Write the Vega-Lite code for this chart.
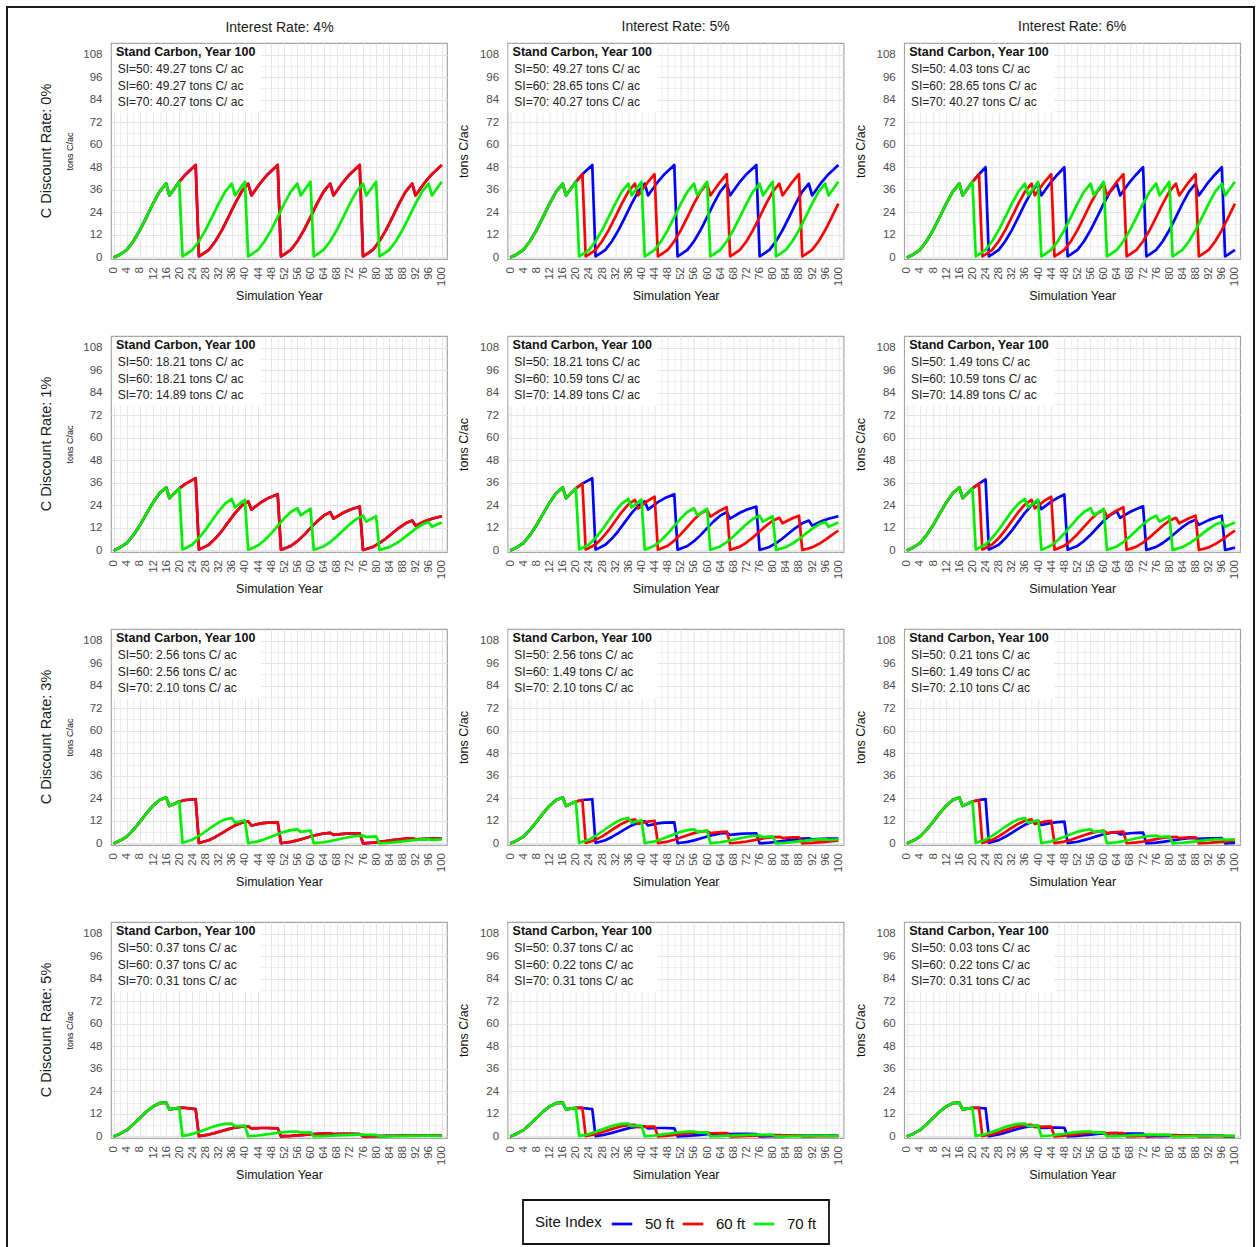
{
  "$schema": "https://vega.github.io/schema/vega-lite/v6.json",
  "background": "white",
  "padding": 5,
  "data": {
    "values": "d,R,t,c\n0,20,0,0\n0,20,2,1.6\n0,20,4,4.03\n0,20,6,8.6\n0,20,8,14.5\n0,20,10,21.5\n0,20,12,28.65\n0,20,14,35\n0,20,16,39.3\n0,20,17,33\n0,20,20,40.27\n0,20,21,0.6\n0,20,22,1.6\n0,20,24,4.03\n0,20,26,8.6\n0,20,28,14.5\n0,20,30,21.5\n0,20,32,28.65\n0,20,34,35\n0,20,36,39.3\n0,20,37,33\n0,20,40,40.27\n0,20,41,0.6\n0,20,42,1.6\n0,20,44,4.03\n0,20,46,8.6\n0,20,48,14.5\n0,20,50,21.5\n0,20,52,28.65\n0,20,54,35\n0,20,56,39.3\n0,20,57,33\n0,20,60,40.27\n0,20,61,0.6\n0,20,62,1.6\n0,20,64,4.03\n0,20,66,8.6\n0,20,68,14.5\n0,20,70,21.5\n0,20,72,28.65\n0,20,74,35\n0,20,76,39.3\n0,20,77,33\n0,20,80,40.27\n0,20,81,0.6\n0,20,82,1.6\n0,20,84,4.03\n0,20,86,8.6\n0,20,88,14.5\n0,20,90,21.5\n0,20,92,28.65\n0,20,94,35\n0,20,96,39.3\n0,20,97,33\n0,20,100,40.27\n1,20,0,0\n1,20,2,1.57\n1,20,4,3.87\n1,20,6,8.1\n1,20,8,13.39\n1,20,10,19.46\n1,20,12,25.43\n1,20,14,30.45\n1,20,16,33.52\n1,20,17,27.86\n1,20,20,33\n1,20,21,0.49\n1,20,22,1.29\n1,20,24,3.17\n1,20,26,6.64\n1,20,28,10.97\n1,20,30,15.95\n1,20,32,20.84\n1,20,34,24.95\n1,20,36,27.47\n1,20,37,22.84\n1,20,40,27.05\n1,20,41,0.4\n1,20,42,1.05\n1,20,44,2.6\n1,20,46,5.44\n1,20,48,8.99\n1,20,50,13.07\n1,20,52,17.08\n1,20,54,20.45\n1,20,56,22.51\n1,20,57,18.72\n1,20,60,22.17\n1,20,61,0.33\n1,20,62,0.86\n1,20,64,2.13\n1,20,66,4.46\n1,20,68,7.37\n1,20,70,10.71\n1,20,72,14\n1,20,74,16.76\n1,20,76,18.45\n1,20,77,15.34\n1,20,80,18.17\n1,20,81,0.27\n1,20,82,0.71\n1,20,84,1.75\n1,20,86,3.65\n1,20,88,6.04\n1,20,90,8.78\n1,20,92,11.47\n1,20,94,13.74\n1,20,96,15.12\n1,20,97,12.57\n1,20,100,14.89\n3,20,0,0\n3,20,2,1.51\n3,20,4,3.58\n3,20,6,7.2\n3,20,8,11.45\n3,20,10,16\n3,20,12,20.1\n3,20,14,23.14\n3,20,16,24.49\n3,20,17,19.97\n3,20,20,22.3\n3,20,21,0.32\n3,20,22,0.84\n3,20,24,1.98\n3,20,26,3.99\n3,20,28,6.34\n3,20,30,8.86\n3,20,32,11.13\n3,20,34,12.81\n3,20,36,13.56\n3,20,37,11.05\n3,20,40,12.35\n3,20,41,0.18\n3,20,42,0.46\n3,20,44,1.1\n3,20,46,2.21\n3,20,48,3.51\n3,20,50,4.9\n3,20,52,6.16\n3,20,54,7.09\n3,20,56,7.51\n3,20,57,6.12\n3,20,60,6.84\n3,20,61,0.1\n3,20,62,0.26\n3,20,64,0.61\n3,20,66,1.22\n3,20,68,1.94\n3,20,70,2.72\n3,20,72,3.41\n3,20,74,3.93\n3,20,76,4.16\n3,20,77,3.39\n3,20,80,3.78\n3,20,81,0.055\n3,20,82,0.14\n3,20,84,0.34\n3,20,86,0.68\n3,20,88,1.08\n3,20,90,1.5\n3,20,92,1.89\n3,20,94,2.18\n3,20,96,2.3\n3,20,97,1.88\n3,20,100,2.1\n5,20,0,0\n5,20,2,1.451\n5,20,4,3.315\n5,20,6,6.417\n5,20,8,9.814\n5,20,10,13.199\n5,20,12,15.953\n5,20,14,17.677\n5,20,16,18.004\n5,20,17,14.398\n5,20,20,15.177\n5,20,21,0.215\n5,20,22,0.547\n5,20,24,1.25\n5,20,26,2.419\n5,20,28,3.699\n5,20,30,4.975\n5,20,32,6.013\n5,20,34,6.662\n5,20,36,6.785\n5,20,37,5.426\n5,20,40,5.72\n5,20,41,0.081\n5,20,42,0.206\n5,20,44,0.471\n5,20,46,0.912\n5,20,48,1.394\n5,20,50,1.875\n5,20,52,2.266\n5,20,54,2.511\n5,20,56,2.557\n5,20,57,2.045\n5,20,60,2.156\n5,20,61,0.031\n5,20,62,0.078\n5,20,64,0.177\n5,20,66,0.344\n5,20,68,0.525\n5,20,70,0.707\n5,20,72,0.854\n5,20,74,0.946\n5,20,76,0.964\n5,20,77,0.771\n5,20,80,0.813\n5,20,81,0.012\n5,20,82,0.029\n5,20,84,0.067\n5,20,86,0.129\n5,20,88,0.198\n5,20,90,0.266\n5,20,92,0.322\n5,20,94,0.357\n5,20,96,0.363\n5,20,97,0.29\n5,20,100,0.31\n0,25,0,0\n0,25,2,1.6\n0,25,4,4.03\n0,25,6,8.6\n0,25,8,14.5\n0,25,10,21.5\n0,25,12,28.65\n0,25,14,35\n0,25,16,39.3\n0,25,17,33\n0,25,20,40.27\n0,25,22,44.3\n0,25,25,49.27\n0,25,26,0.6\n0,25,27,1.6\n0,25,29,4.03\n0,25,31,8.6\n0,25,33,14.5\n0,25,35,21.5\n0,25,37,28.65\n0,25,39,35\n0,25,41,39.3\n0,25,42,33\n0,25,45,40.27\n0,25,47,44.3\n0,25,50,49.27\n0,25,51,0.6\n0,25,52,1.6\n0,25,54,4.03\n0,25,56,8.6\n0,25,58,14.5\n0,25,60,21.5\n0,25,62,28.65\n0,25,64,35\n0,25,66,39.3\n0,25,67,33\n0,25,70,40.27\n0,25,72,44.3\n0,25,75,49.27\n0,25,76,0.6\n0,25,77,1.6\n0,25,79,4.03\n0,25,81,8.6\n0,25,83,14.5\n0,25,85,21.5\n0,25,87,28.65\n0,25,89,35\n0,25,91,39.3\n0,25,92,33\n0,25,95,40.27\n0,25,97,44.3\n0,25,100,49.27\n1,25,0,0\n1,25,2,1.57\n1,25,4,3.87\n1,25,6,8.1\n1,25,8,13.39\n1,25,10,19.46\n1,25,12,25.43\n1,25,14,30.45\n1,25,16,33.52\n1,25,17,27.86\n1,25,20,33\n1,25,22,35.59\n1,25,25,38.42\n1,25,26,0.46\n1,25,27,1.22\n1,25,29,3.02\n1,25,31,6.32\n1,25,33,10.44\n1,25,35,15.18\n1,25,37,19.83\n1,25,39,23.74\n1,25,41,26.14\n1,25,42,21.73\n1,25,45,25.74\n1,25,47,27.75\n1,25,50,29.96\n1,25,51,0.36\n1,25,52,0.95\n1,25,54,2.35\n1,25,56,4.93\n1,25,58,8.14\n1,25,60,11.83\n1,25,62,15.46\n1,25,64,18.51\n1,25,66,20.38\n1,25,67,16.94\n1,25,70,20.07\n1,25,72,21.64\n1,25,75,23.36\n1,25,76,0.28\n1,25,77,0.74\n1,25,79,1.84\n1,25,81,3.84\n1,25,83,6.35\n1,25,85,9.23\n1,25,87,12.06\n1,25,89,14.44\n1,25,91,15.89\n1,25,92,13.21\n1,25,95,15.65\n1,25,97,16.87\n1,25,100,18.21\n3,25,0,0\n3,25,2,1.51\n3,25,4,3.58\n3,25,6,7.2\n3,25,8,11.45\n3,25,10,16\n3,25,12,20.1\n3,25,14,23.14\n3,25,16,24.49\n3,25,17,19.97\n3,25,20,22.3\n3,25,22,23.12\n3,25,25,23.53\n3,25,26,0.28\n3,25,27,0.72\n3,25,29,1.71\n3,25,31,3.44\n3,25,33,5.47\n3,25,35,7.64\n3,25,37,9.6\n3,25,39,11.05\n3,25,41,11.7\n3,25,42,9.54\n3,25,45,10.65\n3,25,47,11.04\n3,25,50,11.24\n3,25,51,0.13\n3,25,52,0.34\n3,25,54,0.82\n3,25,56,1.64\n3,25,58,2.61\n3,25,60,3.65\n3,25,62,4.58\n3,25,64,5.28\n3,25,66,5.59\n3,25,67,4.55\n3,25,70,5.09\n3,25,72,5.27\n3,25,75,5.37\n3,25,76,0.063\n3,25,77,0.16\n3,25,79,0.39\n3,25,81,0.78\n3,25,83,1.25\n3,25,85,1.74\n3,25,87,2.19\n3,25,89,2.52\n3,25,91,2.67\n3,25,92,2.18\n3,25,95,2.43\n3,25,97,2.52\n3,25,100,2.56\n5,25,0,0\n5,25,2,1.451\n5,25,4,3.315\n5,25,6,6.417\n5,25,8,9.814\n5,25,10,13.199\n5,25,12,15.953\n5,25,14,17.677\n5,25,16,18.004\n5,25,17,14.398\n5,25,20,15.177\n5,25,22,15.144\n5,25,25,14.55\n5,25,26,0.169\n5,25,27,0.429\n5,25,29,0.979\n5,25,31,1.895\n5,25,33,2.898\n5,25,35,3.898\n5,25,37,4.711\n5,25,39,5.22\n5,25,41,5.317\n5,25,42,4.252\n5,25,45,4.482\n5,25,47,4.472\n5,25,50,4.297\n5,25,51,0.05\n5,25,52,0.127\n5,25,54,0.289\n5,25,56,0.56\n5,25,58,0.856\n5,25,60,1.151\n5,25,62,1.391\n5,25,64,1.542\n5,25,66,1.57\n5,25,67,1.256\n5,25,70,1.324\n5,25,72,1.321\n5,25,75,1.269\n5,25,76,0.015\n5,25,77,0.037\n5,25,79,0.085\n5,25,81,0.165\n5,25,83,0.253\n5,25,85,0.34\n5,25,87,0.411\n5,25,89,0.455\n5,25,91,0.464\n5,25,92,0.371\n5,25,95,0.391\n5,25,97,0.39\n5,25,100,0.37\n0,22,0,0\n0,22,2,1.6\n0,22,4,4.03\n0,22,6,8.6\n0,22,8,14.5\n0,22,10,21.5\n0,22,12,28.65\n0,22,14,35\n0,22,16,39.3\n0,22,17,33\n0,22,20,40.27\n0,22,22,44.3\n0,22,23,0.6\n0,22,24,1.6\n0,22,26,4.03\n0,22,28,8.6\n0,22,30,14.5\n0,22,32,21.5\n0,22,34,28.65\n0,22,36,35\n0,22,38,39.3\n0,22,39,33\n0,22,42,40.27\n0,22,44,44.3\n0,22,45,0.6\n0,22,46,1.6\n0,22,48,4.03\n0,22,50,8.6\n0,22,52,14.5\n0,22,54,21.5\n0,22,56,28.65\n0,22,58,35\n0,22,60,39.3\n0,22,61,33\n0,22,64,40.27\n0,22,66,44.3\n0,22,67,0.6\n0,22,68,1.6\n0,22,70,4.03\n0,22,72,8.6\n0,22,74,14.5\n0,22,76,21.5\n0,22,78,28.65\n0,22,80,35\n0,22,82,39.3\n0,22,83,33\n0,22,86,40.27\n0,22,88,44.3\n0,22,89,0.6\n0,22,90,1.6\n0,22,92,4.03\n0,22,94,8.6\n0,22,96,14.5\n0,22,98,21.5\n0,22,100,28.65\n1,22,0,0\n1,22,2,1.57\n1,22,4,3.87\n1,22,6,8.1\n1,22,8,13.39\n1,22,10,19.46\n1,22,12,25.43\n1,22,14,30.45\n1,22,16,33.52\n1,22,17,27.86\n1,22,20,33\n1,22,22,35.59\n1,22,23,0.48\n1,22,24,1.26\n1,22,26,3.11\n1,22,28,6.51\n1,22,30,10.76\n1,22,32,15.64\n1,22,34,20.43\n1,22,36,24.46\n1,22,38,26.93\n1,22,39,22.39\n1,22,42,26.52\n1,22,44,28.59\n1,22,45,0.38\n1,22,46,1.01\n1,22,48,2.5\n1,22,50,5.23\n1,22,52,8.64\n1,22,54,12.56\n1,22,56,16.41\n1,22,58,19.65\n1,22,60,21.63\n1,22,61,17.99\n1,22,64,21.3\n1,22,66,22.97\n1,22,67,0.31\n1,22,68,0.81\n1,22,70,2.01\n1,22,72,4.2\n1,22,74,6.94\n1,22,76,10.09\n1,22,78,13.18\n1,22,80,15.79\n1,22,82,17.38\n1,22,83,14.45\n1,22,86,17.11\n1,22,88,18.46\n1,22,89,0.25\n1,22,90,0.65\n1,22,92,1.61\n1,22,94,3.38\n1,22,96,5.58\n1,22,98,8.11\n1,22,100,10.59\n3,22,0,0\n3,22,2,1.51\n3,22,4,3.58\n3,22,6,7.2\n3,22,8,11.45\n3,22,10,16\n3,22,12,20.1\n3,22,14,23.14\n3,22,16,24.49\n3,22,17,19.97\n3,22,20,22.3\n3,22,22,23.12\n3,22,23,0.3\n3,22,24,0.79\n3,22,26,1.87\n3,22,28,3.76\n3,22,30,5.97\n3,22,32,8.35\n3,22,34,10.49\n3,22,36,12.08\n3,22,38,12.78\n3,22,39,10.42\n3,22,42,11.64\n3,22,44,12.07\n3,22,45,0.16\n3,22,46,0.41\n3,22,48,0.98\n3,22,50,1.96\n3,22,52,3.12\n3,22,54,4.36\n3,22,56,5.47\n3,22,58,6.3\n3,22,60,6.67\n3,22,61,5.44\n3,22,64,6.07\n3,22,66,6.3\n3,22,67,0.083\n3,22,68,0.21\n3,22,70,0.51\n3,22,72,1.02\n3,22,74,1.63\n3,22,76,2.27\n3,22,78,2.86\n3,22,80,3.29\n3,22,82,3.48\n3,22,83,2.84\n3,22,86,3.17\n3,22,88,3.29\n3,22,89,0.043\n3,22,90,0.11\n3,22,92,0.27\n3,22,94,0.53\n3,22,96,0.85\n3,22,98,1.19\n3,22,100,1.49\n5,22,0,0\n5,22,2,1.451\n5,22,4,3.315\n5,22,6,6.417\n5,22,8,9.814\n5,22,10,13.199\n5,22,12,15.953\n5,22,14,17.677\n5,22,16,18.004\n5,22,17,14.398\n5,22,20,15.177\n5,22,22,15.144\n5,22,23,0.195\n5,22,24,0.496\n5,22,26,1.133\n5,22,28,2.194\n5,22,30,3.355\n5,22,32,4.512\n5,22,34,5.454\n5,22,36,6.043\n5,22,38,6.155\n5,22,39,4.922\n5,22,42,5.188\n5,22,44,5.177\n5,22,45,0.067\n5,22,46,0.17\n5,22,48,0.387\n5,22,50,0.75\n5,22,52,1.147\n5,22,54,1.542\n5,22,56,1.864\n5,22,58,2.066\n5,22,60,2.104\n5,22,61,1.683\n5,22,64,1.774\n5,22,66,1.77\n5,22,67,0.023\n5,22,68,0.058\n5,22,70,0.132\n5,22,72,0.256\n5,22,74,0.392\n5,22,76,0.527\n5,22,78,0.637\n5,22,80,0.706\n5,22,82,0.719\n5,22,83,0.575\n5,22,86,0.606\n5,22,88,0.605\n5,22,89,0.008\n5,22,90,0.02\n5,22,92,0.045\n5,22,94,0.088\n5,22,96,0.134\n5,22,98,0.18\n5,22,100,0.22\n0,24,0,0\n0,24,2,1.6\n0,24,4,4.03\n0,24,6,8.6\n0,24,8,14.5\n0,24,10,21.5\n0,24,12,28.65\n0,24,14,35\n0,24,16,39.3\n0,24,17,33\n0,24,20,40.27\n0,24,22,44.3\n0,24,24,48\n0,24,25,0.6\n0,24,26,1.6\n0,24,28,4.03\n0,24,30,8.6\n0,24,32,14.5\n0,24,34,21.5\n0,24,36,28.65\n0,24,38,35\n0,24,40,39.3\n0,24,41,33\n0,24,44,40.27\n0,24,46,44.3\n0,24,48,48\n0,24,49,0.6\n0,24,50,1.6\n0,24,52,4.03\n0,24,54,8.6\n0,24,56,14.5\n0,24,58,21.5\n0,24,60,28.65\n0,24,62,35\n0,24,64,39.3\n0,24,65,33\n0,24,68,40.27\n0,24,70,44.3\n0,24,72,48\n0,24,73,0.6\n0,24,74,1.6\n0,24,76,4.03\n0,24,78,8.6\n0,24,80,14.5\n0,24,82,21.5\n0,24,84,28.65\n0,24,86,35\n0,24,88,39.3\n0,24,89,33\n0,24,92,40.27\n0,24,94,44.3\n0,24,96,48\n0,24,97,0.6\n0,24,98,1.6\n0,24,100,4.03\n1,24,0,0\n1,24,2,1.57\n1,24,4,3.87\n1,24,6,8.1\n1,24,8,13.39\n1,24,10,19.46\n1,24,12,25.43\n1,24,14,30.45\n1,24,16,33.52\n1,24,17,27.86\n1,24,20,33\n1,24,22,35.59\n1,24,24,37.8\n1,24,25,0.47\n1,24,26,1.24\n1,24,28,3.05\n1,24,30,6.38\n1,24,32,10.55\n1,24,34,15.33\n1,24,36,20.02\n1,24,38,23.98\n1,24,40,26.4\n1,24,41,21.95\n1,24,44,25.99\n1,24,46,28.03\n1,24,48,29.77\n1,24,49,0.37\n1,24,50,0.97\n1,24,52,2.4\n1,24,54,5.03\n1,24,56,8.31\n1,24,58,12.07\n1,24,60,15.77\n1,24,62,18.89\n1,24,64,20.79\n1,24,65,17.28\n1,24,68,20.47\n1,24,70,22.08\n1,24,72,23.45\n1,24,73,0.29\n1,24,74,0.77\n1,24,76,1.89\n1,24,78,3.96\n1,24,80,6.54\n1,24,82,9.51\n1,24,84,12.42\n1,24,86,14.87\n1,24,88,16.37\n1,24,89,13.61\n1,24,92,16.12\n1,24,94,17.39\n1,24,96,18.47\n1,24,97,0.23\n1,24,98,0.6\n1,24,100,1.49\n3,24,0,0\n3,24,2,1.51\n3,24,4,3.58\n3,24,6,7.2\n3,24,8,11.45\n3,24,10,16\n3,24,12,20.1\n3,24,14,23.14\n3,24,16,24.49\n3,24,17,19.97\n3,24,20,22.3\n3,24,22,23.12\n3,24,24,23.61\n3,24,25,0.29\n3,24,26,0.74\n3,24,28,1.76\n3,24,30,3.54\n3,24,32,5.63\n3,24,34,7.87\n3,24,36,9.89\n3,24,38,11.38\n3,24,40,12.05\n3,24,41,9.82\n3,24,44,10.97\n3,24,46,11.37\n3,24,48,11.62\n3,24,49,0.14\n3,24,50,0.37\n3,24,52,0.87\n3,24,54,1.74\n3,24,56,2.77\n3,24,58,3.87\n3,24,60,4.86\n3,24,62,5.6\n3,24,64,5.93\n3,24,65,4.83\n3,24,68,5.4\n3,24,70,5.6\n3,24,72,5.71\n3,24,73,0.069\n3,24,74,0.18\n3,24,76,0.43\n3,24,78,0.86\n3,24,80,1.36\n3,24,82,1.91\n3,24,84,2.39\n3,24,86,2.76\n3,24,88,2.92\n3,24,89,2.38\n3,24,92,2.65\n3,24,94,2.75\n3,24,96,2.81\n3,24,97,0.034\n3,24,98,0.088\n3,24,100,0.21\n5,24,0,0\n5,24,2,1.451\n5,24,4,3.315\n5,24,6,6.417\n5,24,8,9.814\n5,24,10,13.199\n5,24,12,15.953\n5,24,14,17.677\n5,24,16,18.004\n5,24,17,14.398\n5,24,20,15.177\n5,24,22,15.144\n5,24,24,14.883\n5,24,25,0.177\n5,24,26,0.45\n5,24,28,1.028\n5,24,30,1.99\n5,24,32,3.043\n5,24,34,4.093\n5,24,36,4.947\n5,24,38,5.481\n5,24,40,5.582\n5,24,41,4.464\n5,24,44,4.706\n5,24,46,4.696\n5,24,48,4.615\n5,24,49,0.055\n5,24,50,0.14\n5,24,52,0.319\n5,24,54,0.617\n5,24,56,0.944\n5,24,58,1.269\n5,24,60,1.534\n5,24,62,1.7\n5,24,64,1.731\n5,24,65,1.384\n5,24,68,1.459\n5,24,70,1.456\n5,24,72,1.431\n5,24,73,0.017\n5,24,74,0.043\n5,24,76,0.099\n5,24,78,0.191\n5,24,80,0.293\n5,24,82,0.393\n5,24,84,0.476\n5,24,86,0.527\n5,24,88,0.537\n5,24,89,0.429\n5,24,92,0.452\n5,24,94,0.451\n5,24,96,0.444\n5,24,97,0.005\n5,24,98,0.013\n5,24,100,0.03",
    "format": {"type": "csv", "parse": {"d": "number", "R": "number", "t": "number", "c": "number"}}
  },
  "datasets": {
    "labels": [
      {"d": 0, "i": 4, "body": ["SI=50: 49.27 tons C/ ac", "SI=60: 49.27 tons C/ ac", "SI=70: 40.27 tons C/ ac"]},
      {"d": 0, "i": 5, "body": ["SI=50: 49.27 tons C/ ac", "SI=60: 28.65 tons C/ ac", "SI=70: 40.27 tons C/ ac"]},
      {"d": 0, "i": 6, "body": ["SI=50: 4.03 tons C/ ac", "SI=60: 28.65 tons C/ ac", "SI=70: 40.27 tons C/ ac"]},
      {"d": 1, "i": 4, "body": ["SI=50: 18.21 tons C/ ac", "SI=60: 18.21 tons C/ ac", "SI=70: 14.89 tons C/ ac"]},
      {"d": 1, "i": 5, "body": ["SI=50: 18.21 tons C/ ac", "SI=60: 10.59 tons C/ ac", "SI=70: 14.89 tons C/ ac"]},
      {"d": 1, "i": 6, "body": ["SI=50: 1.49 tons C/ ac", "SI=60: 10.59 tons C/ ac", "SI=70: 14.89 tons C/ ac"]},
      {"d": 3, "i": 4, "body": ["SI=50: 2.56 tons C/ ac", "SI=60: 2.56 tons C/ ac", "SI=70: 2.10 tons C/ ac"]},
      {"d": 3, "i": 5, "body": ["SI=50: 2.56 tons C/ ac", "SI=60: 1.49 tons C/ ac", "SI=70: 2.10 tons C/ ac"]},
      {"d": 3, "i": 6, "body": ["SI=50: 0.21 tons C/ ac", "SI=60: 1.49 tons C/ ac", "SI=70: 2.10 tons C/ ac"]},
      {"d": 5, "i": 4, "body": ["SI=50: 0.37 tons C/ ac", "SI=60: 0.37 tons C/ ac", "SI=70: 0.31 tons C/ ac"]},
      {"d": 5, "i": 5, "body": ["SI=50: 0.37 tons C/ ac", "SI=60: 0.22 tons C/ ac", "SI=70: 0.31 tons C/ ac"]},
      {"d": 5, "i": 6, "body": ["SI=50: 0.03 tons C/ ac", "SI=60: 0.22 tons C/ ac", "SI=70: 0.31 tons C/ ac"]}
    ]
  },
  "columns": 3,
  "spacing": {"row": 77, "column": 60.6},
  "bounds": "flush",
  "concat": [
    {
      "width": 336, "height": 216,
      "title": {"text": "C Discount Rate: 0%", "orient": "left", "fontSize": 14.5, "offset": 11},
      "resolve": {"axis": {"x": "independent"}},
      "layer": [
        {"layer": [
          {"encoding": {
            "x": {"field": "t", "type": "quantitative", "scale": {"domain": [-0.8, 101.6], "nice": false, "zero": false}, "axis": {"title": "Simulation Year", "labelOverlap": false, "tickCount": 60, "values": [0,2,4,6,8,10,12,14,16,18,20,22,24,26,28,30,32,34,36,38,40,42,44,46,48,50,52,54,56,58,60,62,64,66,68,70,72,74,76,78,80,82,84,86,88,90,92,94,96,98,100]}},
            "y": {"field": "c", "type": "quantitative", "scale": {"domain": [-0.85, 114.2], "nice": false, "zero": false}, "axis": {"title": "tons C/ac", "labelOverlap": false, "tickCount": 25, "titleFontSize": 9, "titlePadding": 8, "values": [0,6,12,18,24,30,36,42,48,54,60,66,72,78,84,90,96,102,108]}}
          }, "layer": [
            {"transform": [{"filter": "datum.d == 0 && datum.R == 25"}], "mark": "line", "encoding": {"color": {"datum": "50 ft", "legend": {"title": "Site Index"}}}},
            {"transform": [{"filter": "datum.d == 0 && datum.R == 25"}], "mark": "line", "encoding": {"color": {"datum": "60 ft"}}},
            {"transform": [{"filter": "datum.d == 0 && datum.R == 20"}], "mark": "line", "encoding": {"color": {"datum": "70 ft"}}}
          ]},
          {"data": {"name": "labels"}, "transform": [{"filter": "datum.d == 0 && datum.i == 4"}], "layer": [
            {"mark": {"type": "rect", "fill": "white"}, "encoding": {"x": {"datum": -0.5}, "x2": {"datum": 45}, "y": {"datum": 113.7}, "y2": {"datum": 77}}},
            {"mark": {"type": "text", "text": "Stand Carbon, Year 100", "fontWeight": "bold", "fontSize": 12.5, "align": "left", "baseline": "middle", "color": "#111111"}, "encoding": {"x": {"datum": 0.72}, "y": {"datum": 109.57}}},
            {"mark": {"type": "text", "fontSize": 12, "align": "left", "baseline": "middle", "lineHeight": 16.3, "color": "#222222"}, "encoding": {"x": {"datum": 1.24}, "y": {"datum": 100.2}, "text": {"field": "body"}}}
          ]}
        ]},
        {"data": {"name": "labels"}, "transform": [{"filter": "datum.d == 0 && datum.i == 4"}], "mark": {"type": "rect", "fillOpacity": 0, "strokeOpacity": 0}, "encoding": {"x": {"datum": -0.5, "axis": {"orient": "top", "title": "Interest Rate: 4%", "labels": false, "ticks": false, "grid": false, "domain": false, "titleFontSize": 14, "titleColor": "#1a1a1a", "titlePadding": 9}}, "x2": {"datum": 45}, "y": {"datum": 113.7}, "y2": {"datum": 77}}}
      ]
    },
    {
      "width": 336, "height": 216,
      "title": {"text": "Interest Rate: 5%"},
      "layer": [
        {"encoding": {
          "x": {"field": "t", "type": "quantitative", "scale": {"domain": [-0.8, 101.6], "nice": false, "zero": false}, "axis": {"title": "Simulation Year", "labelOverlap": false, "tickCount": 60, "values": [0,2,4,6,8,10,12,14,16,18,20,22,24,26,28,30,32,34,36,38,40,42,44,46,48,50,52,54,56,58,60,62,64,66,68,70,72,74,76,78,80,82,84,86,88,90,92,94,96,98,100]}},
          "y": {"field": "c", "type": "quantitative", "scale": {"domain": [-0.85, 114.2], "nice": false, "zero": false}, "axis": {"title": "tons C/ac", "labelOverlap": false, "tickCount": 25, "values": [0,6,12,18,24,30,36,42,48,54,60,66,72,78,84,90,96,102,108]}}
        }, "layer": [
          {"transform": [{"filter": "datum.d == 0 && datum.R == 25"}], "mark": "line", "encoding": {"color": {"datum": "50 ft"}}},
          {"transform": [{"filter": "datum.d == 0 && datum.R == 22"}], "mark": "line", "encoding": {"color": {"datum": "60 ft"}}},
          {"transform": [{"filter": "datum.d == 0 && datum.R == 20"}], "mark": "line", "encoding": {"color": {"datum": "70 ft"}}}
        ]},
        {"data": {"name": "labels"}, "transform": [{"filter": "datum.d == 0 && datum.i == 5"}], "layer": [
          {"mark": {"type": "rect", "fill": "white"}, "encoding": {"x": {"datum": -0.5}, "x2": {"datum": 45}, "y": {"datum": 113.7}, "y2": {"datum": 77}}},
          {"mark": {"type": "text", "text": "Stand Carbon, Year 100", "fontWeight": "bold", "fontSize": 12.5, "align": "left", "baseline": "middle", "color": "#111111"}, "encoding": {"x": {"datum": 0.72}, "y": {"datum": 109.57}}},
          {"mark": {"type": "text", "fontSize": 12, "align": "left", "baseline": "middle", "lineHeight": 16.3, "color": "#222222"}, "encoding": {"x": {"datum": 1.24}, "y": {"datum": 100.2}, "text": {"field": "body"}}}
        ]}
      ]
    },
    {
      "width": 336, "height": 216,
      "title": {"text": "Interest Rate: 6%"},
      "layer": [
        {"encoding": {
          "x": {"field": "t", "type": "quantitative", "scale": {"domain": [-0.8, 101.6], "nice": false, "zero": false}, "axis": {"title": "Simulation Year", "labelOverlap": false, "tickCount": 60, "values": [0,2,4,6,8,10,12,14,16,18,20,22,24,26,28,30,32,34,36,38,40,42,44,46,48,50,52,54,56,58,60,62,64,66,68,70,72,74,76,78,80,82,84,86,88,90,92,94,96,98,100]}},
          "y": {"field": "c", "type": "quantitative", "scale": {"domain": [-0.85, 114.2], "nice": false, "zero": false}, "axis": {"title": "tons C/ac", "labelOverlap": false, "tickCount": 25, "values": [0,6,12,18,24,30,36,42,48,54,60,66,72,78,84,90,96,102,108]}}
        }, "layer": [
          {"transform": [{"filter": "datum.d == 0 && datum.R == 24"}], "mark": "line", "encoding": {"color": {"datum": "50 ft"}}},
          {"transform": [{"filter": "datum.d == 0 && datum.R == 22"}], "mark": "line", "encoding": {"color": {"datum": "60 ft"}}},
          {"transform": [{"filter": "datum.d == 0 && datum.R == 20"}], "mark": "line", "encoding": {"color": {"datum": "70 ft"}}}
        ]},
        {"data": {"name": "labels"}, "transform": [{"filter": "datum.d == 0 && datum.i == 6"}], "layer": [
          {"mark": {"type": "rect", "fill": "white"}, "encoding": {"x": {"datum": -0.5}, "x2": {"datum": 45}, "y": {"datum": 113.7}, "y2": {"datum": 77}}},
          {"mark": {"type": "text", "text": "Stand Carbon, Year 100", "fontWeight": "bold", "fontSize": 12.5, "align": "left", "baseline": "middle", "color": "#111111"}, "encoding": {"x": {"datum": 0.72}, "y": {"datum": 109.57}}},
          {"mark": {"type": "text", "fontSize": 12, "align": "left", "baseline": "middle", "lineHeight": 16.3, "color": "#222222"}, "encoding": {"x": {"datum": 1.24}, "y": {"datum": 100.2}, "text": {"field": "body"}}}
        ]}
      ]
    },
    {
      "width": 336, "height": 216,
      "title": {"text": "C Discount Rate: 1%", "orient": "left", "fontSize": 14.5, "offset": 11},
      "layer": [
        {"encoding": {
          "x": {"field": "t", "type": "quantitative", "scale": {"domain": [-0.8, 101.6], "nice": false, "zero": false}, "axis": {"title": "Simulation Year", "labelOverlap": false, "tickCount": 60, "values": [0,2,4,6,8,10,12,14,16,18,20,22,24,26,28,30,32,34,36,38,40,42,44,46,48,50,52,54,56,58,60,62,64,66,68,70,72,74,76,78,80,82,84,86,88,90,92,94,96,98,100]}},
          "y": {"field": "c", "type": "quantitative", "scale": {"domain": [-0.85, 114.2], "nice": false, "zero": false}, "axis": {"title": "tons C/ac", "labelOverlap": false, "tickCount": 25, "titleFontSize": 9, "titlePadding": 8, "values": [0,6,12,18,24,30,36,42,48,54,60,66,72,78,84,90,96,102,108]}}
        }, "layer": [
          {"transform": [{"filter": "datum.d == 1 && datum.R == 25"}], "mark": "line", "encoding": {"color": {"datum": "50 ft"}}},
          {"transform": [{"filter": "datum.d == 1 && datum.R == 25"}], "mark": "line", "encoding": {"color": {"datum": "60 ft"}}},
          {"transform": [{"filter": "datum.d == 1 && datum.R == 20"}], "mark": "line", "encoding": {"color": {"datum": "70 ft"}}}
        ]},
        {"data": {"name": "labels"}, "transform": [{"filter": "datum.d == 1 && datum.i == 4"}], "layer": [
          {"mark": {"type": "rect", "fill": "white"}, "encoding": {"x": {"datum": -0.5}, "x2": {"datum": 45}, "y": {"datum": 113.7}, "y2": {"datum": 77}}},
          {"mark": {"type": "text", "text": "Stand Carbon, Year 100", "fontWeight": "bold", "fontSize": 12.5, "align": "left", "baseline": "middle", "color": "#111111"}, "encoding": {"x": {"datum": 0.72}, "y": {"datum": 109.57}}},
          {"mark": {"type": "text", "fontSize": 12, "align": "left", "baseline": "middle", "lineHeight": 16.3, "color": "#222222"}, "encoding": {"x": {"datum": 1.24}, "y": {"datum": 100.2}, "text": {"field": "body"}}}
        ]}
      ]
    },
    {
      "width": 336, "height": 216,
      "layer": [
        {"encoding": {
          "x": {"field": "t", "type": "quantitative", "scale": {"domain": [-0.8, 101.6], "nice": false, "zero": false}, "axis": {"title": "Simulation Year", "labelOverlap": false, "tickCount": 60, "values": [0,2,4,6,8,10,12,14,16,18,20,22,24,26,28,30,32,34,36,38,40,42,44,46,48,50,52,54,56,58,60,62,64,66,68,70,72,74,76,78,80,82,84,86,88,90,92,94,96,98,100]}},
          "y": {"field": "c", "type": "quantitative", "scale": {"domain": [-0.85, 114.2], "nice": false, "zero": false}, "axis": {"title": "tons C/ac", "labelOverlap": false, "tickCount": 25, "values": [0,6,12,18,24,30,36,42,48,54,60,66,72,78,84,90,96,102,108]}}
        }, "layer": [
          {"transform": [{"filter": "datum.d == 1 && datum.R == 25"}], "mark": "line", "encoding": {"color": {"datum": "50 ft"}}},
          {"transform": [{"filter": "datum.d == 1 && datum.R == 22"}], "mark": "line", "encoding": {"color": {"datum": "60 ft"}}},
          {"transform": [{"filter": "datum.d == 1 && datum.R == 20"}], "mark": "line", "encoding": {"color": {"datum": "70 ft"}}}
        ]},
        {"data": {"name": "labels"}, "transform": [{"filter": "datum.d == 1 && datum.i == 5"}], "layer": [
          {"mark": {"type": "rect", "fillOpacity": 0, "stroke": "#1a1a1a", "strokeWidth": 2, "clip": false}, "encoding": {"x": {"datum": -153.36}, "x2": {"datum": 226.67}, "y": {"datum": 289.44}, "y2": {"datum": -372.1}}},
          {"mark": {"type": "rect", "fill": "white"}, "encoding": {"x": {"datum": -0.5}, "x2": {"datum": 45}, "y": {"datum": 113.7}, "y2": {"datum": 77}}},
          {"mark": {"type": "text", "text": "Stand Carbon, Year 100", "fontWeight": "bold", "fontSize": 12.5, "align": "left", "baseline": "middle", "color": "#111111"}, "encoding": {"x": {"datum": 0.72}, "y": {"datum": 109.57}}},
          {"mark": {"type": "text", "fontSize": 12, "align": "left", "baseline": "middle", "lineHeight": 16.3, "color": "#222222"}, "encoding": {"x": {"datum": 1.24}, "y": {"datum": 100.2}, "text": {"field": "body"}}}
        ]}
      ]
    },
    {
      "width": 336, "height": 216,
      "layer": [
        {"encoding": {
          "x": {"field": "t", "type": "quantitative", "scale": {"domain": [-0.8, 101.6], "nice": false, "zero": false}, "axis": {"title": "Simulation Year", "labelOverlap": false, "tickCount": 60, "values": [0,2,4,6,8,10,12,14,16,18,20,22,24,26,28,30,32,34,36,38,40,42,44,46,48,50,52,54,56,58,60,62,64,66,68,70,72,74,76,78,80,82,84,86,88,90,92,94,96,98,100]}},
          "y": {"field": "c", "type": "quantitative", "scale": {"domain": [-0.85, 114.2], "nice": false, "zero": false}, "axis": {"title": "tons C/ac", "labelOverlap": false, "tickCount": 25, "values": [0,6,12,18,24,30,36,42,48,54,60,66,72,78,84,90,96,102,108]}}
        }, "layer": [
          {"transform": [{"filter": "datum.d == 1 && datum.R == 24"}], "mark": "line", "encoding": {"color": {"datum": "50 ft"}}},
          {"transform": [{"filter": "datum.d == 1 && datum.R == 22"}], "mark": "line", "encoding": {"color": {"datum": "60 ft"}}},
          {"transform": [{"filter": "datum.d == 1 && datum.R == 20"}], "mark": "line", "encoding": {"color": {"datum": "70 ft"}}}
        ]},
        {"data": {"name": "labels"}, "transform": [{"filter": "datum.d == 1 && datum.i == 6"}], "layer": [
          {"mark": {"type": "rect", "fill": "white"}, "encoding": {"x": {"datum": -0.5}, "x2": {"datum": 45}, "y": {"datum": 113.7}, "y2": {"datum": 77}}},
          {"mark": {"type": "text", "text": "Stand Carbon, Year 100", "fontWeight": "bold", "fontSize": 12.5, "align": "left", "baseline": "middle", "color": "#111111"}, "encoding": {"x": {"datum": 0.72}, "y": {"datum": 109.57}}},
          {"mark": {"type": "text", "fontSize": 12, "align": "left", "baseline": "middle", "lineHeight": 16.3, "color": "#222222"}, "encoding": {"x": {"datum": 1.24}, "y": {"datum": 100.2}, "text": {"field": "body"}}}
        ]}
      ]
    },
    {
      "width": 336, "height": 216,
      "title": {"text": "C Discount Rate: 3%", "orient": "left", "fontSize": 14.5, "offset": 11},
      "layer": [
        {"encoding": {
          "x": {"field": "t", "type": "quantitative", "scale": {"domain": [-0.8, 101.6], "nice": false, "zero": false}, "axis": {"title": "Simulation Year", "labelOverlap": false, "tickCount": 60, "values": [0,2,4,6,8,10,12,14,16,18,20,22,24,26,28,30,32,34,36,38,40,42,44,46,48,50,52,54,56,58,60,62,64,66,68,70,72,74,76,78,80,82,84,86,88,90,92,94,96,98,100]}},
          "y": {"field": "c", "type": "quantitative", "scale": {"domain": [-0.85, 114.2], "nice": false, "zero": false}, "axis": {"title": "tons C/ac", "labelOverlap": false, "tickCount": 25, "titleFontSize": 9, "titlePadding": 8, "values": [0,6,12,18,24,30,36,42,48,54,60,66,72,78,84,90,96,102,108]}}
        }, "layer": [
          {"transform": [{"filter": "datum.d == 3 && datum.R == 25"}], "mark": "line", "encoding": {"color": {"datum": "50 ft"}}},
          {"transform": [{"filter": "datum.d == 3 && datum.R == 25"}], "mark": "line", "encoding": {"color": {"datum": "60 ft"}}},
          {"transform": [{"filter": "datum.d == 3 && datum.R == 20"}], "mark": "line", "encoding": {"color": {"datum": "70 ft"}}}
        ]},
        {"data": {"name": "labels"}, "transform": [{"filter": "datum.d == 3 && datum.i == 4"}], "layer": [
          {"mark": {"type": "rect", "fill": "white"}, "encoding": {"x": {"datum": -0.5}, "x2": {"datum": 45}, "y": {"datum": 113.7}, "y2": {"datum": 77}}},
          {"mark": {"type": "text", "text": "Stand Carbon, Year 100", "fontWeight": "bold", "fontSize": 12.5, "align": "left", "baseline": "middle", "color": "#111111"}, "encoding": {"x": {"datum": 0.72}, "y": {"datum": 109.57}}},
          {"mark": {"type": "text", "fontSize": 12, "align": "left", "baseline": "middle", "lineHeight": 16.3, "color": "#222222"}, "encoding": {"x": {"datum": 1.24}, "y": {"datum": 100.2}, "text": {"field": "body"}}}
        ]}
      ]
    },
    {
      "width": 336, "height": 216,
      "layer": [
        {"encoding": {
          "x": {"field": "t", "type": "quantitative", "scale": {"domain": [-0.8, 101.6], "nice": false, "zero": false}, "axis": {"title": "Simulation Year", "labelOverlap": false, "tickCount": 60, "values": [0,2,4,6,8,10,12,14,16,18,20,22,24,26,28,30,32,34,36,38,40,42,44,46,48,50,52,54,56,58,60,62,64,66,68,70,72,74,76,78,80,82,84,86,88,90,92,94,96,98,100]}},
          "y": {"field": "c", "type": "quantitative", "scale": {"domain": [-0.85, 114.2], "nice": false, "zero": false}, "axis": {"title": "tons C/ac", "labelOverlap": false, "tickCount": 25, "values": [0,6,12,18,24,30,36,42,48,54,60,66,72,78,84,90,96,102,108]}}
        }, "layer": [
          {"transform": [{"filter": "datum.d == 3 && datum.R == 25"}], "mark": "line", "encoding": {"color": {"datum": "50 ft"}}},
          {"transform": [{"filter": "datum.d == 3 && datum.R == 22"}], "mark": "line", "encoding": {"color": {"datum": "60 ft"}}},
          {"transform": [{"filter": "datum.d == 3 && datum.R == 20"}], "mark": "line", "encoding": {"color": {"datum": "70 ft"}}}
        ]},
        {"data": {"name": "labels"}, "transform": [{"filter": "datum.d == 3 && datum.i == 5"}], "layer": [
          {"mark": {"type": "rect", "fill": "white"}, "encoding": {"x": {"datum": -0.5}, "x2": {"datum": 45}, "y": {"datum": 113.7}, "y2": {"datum": 77}}},
          {"mark": {"type": "text", "text": "Stand Carbon, Year 100", "fontWeight": "bold", "fontSize": 12.5, "align": "left", "baseline": "middle", "color": "#111111"}, "encoding": {"x": {"datum": 0.72}, "y": {"datum": 109.57}}},
          {"mark": {"type": "text", "fontSize": 12, "align": "left", "baseline": "middle", "lineHeight": 16.3, "color": "#222222"}, "encoding": {"x": {"datum": 1.24}, "y": {"datum": 100.2}, "text": {"field": "body"}}}
        ]}
      ]
    },
    {
      "width": 336, "height": 216,
      "layer": [
        {"encoding": {
          "x": {"field": "t", "type": "quantitative", "scale": {"domain": [-0.8, 101.6], "nice": false, "zero": false}, "axis": {"title": "Simulation Year", "labelOverlap": false, "tickCount": 60, "values": [0,2,4,6,8,10,12,14,16,18,20,22,24,26,28,30,32,34,36,38,40,42,44,46,48,50,52,54,56,58,60,62,64,66,68,70,72,74,76,78,80,82,84,86,88,90,92,94,96,98,100]}},
          "y": {"field": "c", "type": "quantitative", "scale": {"domain": [-0.85, 114.2], "nice": false, "zero": false}, "axis": {"title": "tons C/ac", "labelOverlap": false, "tickCount": 25, "values": [0,6,12,18,24,30,36,42,48,54,60,66,72,78,84,90,96,102,108]}}
        }, "layer": [
          {"transform": [{"filter": "datum.d == 3 && datum.R == 24"}], "mark": "line", "encoding": {"color": {"datum": "50 ft"}}},
          {"transform": [{"filter": "datum.d == 3 && datum.R == 22"}], "mark": "line", "encoding": {"color": {"datum": "60 ft"}}},
          {"transform": [{"filter": "datum.d == 3 && datum.R == 20"}], "mark": "line", "encoding": {"color": {"datum": "70 ft"}}}
        ]},
        {"data": {"name": "labels"}, "transform": [{"filter": "datum.d == 3 && datum.i == 6"}], "layer": [
          {"mark": {"type": "rect", "fill": "white"}, "encoding": {"x": {"datum": -0.5}, "x2": {"datum": 45}, "y": {"datum": 113.7}, "y2": {"datum": 77}}},
          {"mark": {"type": "text", "text": "Stand Carbon, Year 100", "fontWeight": "bold", "fontSize": 12.5, "align": "left", "baseline": "middle", "color": "#111111"}, "encoding": {"x": {"datum": 0.72}, "y": {"datum": 109.57}}},
          {"mark": {"type": "text", "fontSize": 12, "align": "left", "baseline": "middle", "lineHeight": 16.3, "color": "#222222"}, "encoding": {"x": {"datum": 1.24}, "y": {"datum": 100.2}, "text": {"field": "body"}}}
        ]}
      ]
    },
    {
      "width": 336, "height": 216,
      "title": {"text": "C Discount Rate: 5%", "orient": "left", "fontSize": 14.5, "offset": 11},
      "layer": [
        {"encoding": {
          "x": {"field": "t", "type": "quantitative", "scale": {"domain": [-0.8, 101.6], "nice": false, "zero": false}, "axis": {"title": "Simulation Year", "labelOverlap": false, "tickCount": 60, "values": [0,2,4,6,8,10,12,14,16,18,20,22,24,26,28,30,32,34,36,38,40,42,44,46,48,50,52,54,56,58,60,62,64,66,68,70,72,74,76,78,80,82,84,86,88,90,92,94,96,98,100]}},
          "y": {"field": "c", "type": "quantitative", "scale": {"domain": [-0.85, 114.2], "nice": false, "zero": false}, "axis": {"title": "tons C/ac", "labelOverlap": false, "tickCount": 25, "titleFontSize": 9, "titlePadding": 8, "values": [0,6,12,18,24,30,36,42,48,54,60,66,72,78,84,90,96,102,108]}}
        }, "layer": [
          {"transform": [{"filter": "datum.d == 5 && datum.R == 25"}], "mark": "line", "encoding": {"color": {"datum": "50 ft"}}},
          {"transform": [{"filter": "datum.d == 5 && datum.R == 25"}], "mark": "line", "encoding": {"color": {"datum": "60 ft"}}},
          {"transform": [{"filter": "datum.d == 5 && datum.R == 20"}], "mark": "line", "encoding": {"color": {"datum": "70 ft"}}}
        ]},
        {"data": {"name": "labels"}, "transform": [{"filter": "datum.d == 5 && datum.i == 4"}], "layer": [
          {"mark": {"type": "rect", "fill": "white"}, "encoding": {"x": {"datum": -0.5}, "x2": {"datum": 45}, "y": {"datum": 113.7}, "y2": {"datum": 77}}},
          {"mark": {"type": "text", "text": "Stand Carbon, Year 100", "fontWeight": "bold", "fontSize": 12.5, "align": "left", "baseline": "middle", "color": "#111111"}, "encoding": {"x": {"datum": 0.72}, "y": {"datum": 109.57}}},
          {"mark": {"type": "text", "fontSize": 12, "align": "left", "baseline": "middle", "lineHeight": 16.3, "color": "#222222"}, "encoding": {"x": {"datum": 1.24}, "y": {"datum": 100.2}, "text": {"field": "body"}}}
        ]}
      ]
    },
    {
      "width": 336, "height": 216,
      "layer": [
        {"encoding": {
          "x": {"field": "t", "type": "quantitative", "scale": {"domain": [-0.8, 101.6], "nice": false, "zero": false}, "axis": {"title": "Simulation Year", "labelOverlap": false, "tickCount": 60, "values": [0,2,4,6,8,10,12,14,16,18,20,22,24,26,28,30,32,34,36,38,40,42,44,46,48,50,52,54,56,58,60,62,64,66,68,70,72,74,76,78,80,82,84,86,88,90,92,94,96,98,100]}},
          "y": {"field": "c", "type": "quantitative", "scale": {"domain": [-0.85, 114.2], "nice": false, "zero": false}, "axis": {"title": "tons C/ac", "labelOverlap": false, "tickCount": 25, "values": [0,6,12,18,24,30,36,42,48,54,60,66,72,78,84,90,96,102,108]}}
        }, "layer": [
          {"transform": [{"filter": "datum.d == 5 && datum.R == 25"}], "mark": "line", "encoding": {"color": {"datum": "50 ft"}}},
          {"transform": [{"filter": "datum.d == 5 && datum.R == 22"}], "mark": "line", "encoding": {"color": {"datum": "60 ft"}}},
          {"transform": [{"filter": "datum.d == 5 && datum.R == 20"}], "mark": "line", "encoding": {"color": {"datum": "70 ft"}}}
        ]},
        {"data": {"name": "labels"}, "transform": [{"filter": "datum.d == 5 && datum.i == 5"}], "layer": [
          {"mark": {"type": "rect", "fill": "white"}, "encoding": {"x": {"datum": -0.5}, "x2": {"datum": 45}, "y": {"datum": 113.7}, "y2": {"datum": 77}}},
          {"mark": {"type": "text", "text": "Stand Carbon, Year 100", "fontWeight": "bold", "fontSize": 12.5, "align": "left", "baseline": "middle", "color": "#111111"}, "encoding": {"x": {"datum": 0.72}, "y": {"datum": 109.57}}},
          {"mark": {"type": "text", "fontSize": 12, "align": "left", "baseline": "middle", "lineHeight": 16.3, "color": "#222222"}, "encoding": {"x": {"datum": 1.24}, "y": {"datum": 100.2}, "text": {"field": "body"}}}
        ]}
      ]
    },
    {
      "width": 336, "height": 216,
      "layer": [
        {"encoding": {
          "x": {"field": "t", "type": "quantitative", "scale": {"domain": [-0.8, 101.6], "nice": false, "zero": false}, "axis": {"title": "Simulation Year", "labelOverlap": false, "tickCount": 60, "values": [0,2,4,6,8,10,12,14,16,18,20,22,24,26,28,30,32,34,36,38,40,42,44,46,48,50,52,54,56,58,60,62,64,66,68,70,72,74,76,78,80,82,84,86,88,90,92,94,96,98,100]}},
          "y": {"field": "c", "type": "quantitative", "scale": {"domain": [-0.85, 114.2], "nice": false, "zero": false}, "axis": {"title": "tons C/ac", "labelOverlap": false, "tickCount": 25, "values": [0,6,12,18,24,30,36,42,48,54,60,66,72,78,84,90,96,102,108]}}
        }, "layer": [
          {"transform": [{"filter": "datum.d == 5 && datum.R == 24"}], "mark": "line", "encoding": {"color": {"datum": "50 ft"}}},
          {"transform": [{"filter": "datum.d == 5 && datum.R == 22"}], "mark": "line", "encoding": {"color": {"datum": "60 ft"}}},
          {"transform": [{"filter": "datum.d == 5 && datum.R == 20"}], "mark": "line", "encoding": {"color": {"datum": "70 ft"}}}
        ]},
        {"data": {"name": "labels"}, "transform": [{"filter": "datum.d == 5 && datum.i == 6"}], "layer": [
          {"mark": {"type": "rect", "fill": "white"}, "encoding": {"x": {"datum": -0.5}, "x2": {"datum": 45}, "y": {"datum": 113.7}, "y2": {"datum": 77}}},
          {"mark": {"type": "text", "text": "Stand Carbon, Year 100", "fontWeight": "bold", "fontSize": 12.5, "align": "left", "baseline": "middle", "color": "#111111"}, "encoding": {"x": {"datum": 0.72}, "y": {"datum": 109.57}}},
          {"mark": {"type": "text", "fontSize": 12, "align": "left", "baseline": "middle", "lineHeight": 16.3, "color": "#222222"}, "encoding": {"x": {"datum": 1.24}, "y": {"datum": 100.2}, "text": {"field": "body"}}}
        ]}
      ]
    }
  ],
  "config": {
    "font": "Liberation Sans",
    "view": {"stroke": "#a3a3a3", "strokeWidth": 1.2},
    "range": {"category": ["#0000ff", "#ff0000", "#00ee00"]},
    "line": {"strokeWidth": 2.7, "strokeJoin": "round"},
    "title": {"fontSize": 14, "fontWeight": "normal", "color": "#1a1a1a", "offset": 9, "frame": "group", "anchor": "middle"},
    "axis": {"domain": false, "labelColor": "#4d4d4d", "labelFontSize": 11.5, "titleColor": "#111111", "titleFontSize": 12.5, "titleFontWeight": "normal", "tickColor": "#4d4d4d", "tickSize": 3.5, "gridColor": "#e4e4e4", "labelOverlap": false, "labelFlush": false},
    "axisX": {"labelAngle": -90, "labelPadding": 4, "titlePadding": 4, "labelOverlap": false, "labelExpr": "datum.value % 4 === 0 ? datum.label : ''", "tickOpacity": {"condition": {"test": "datum.value % 4 === 0", "value": 1}, "value": 0}, "gridWidth": {"condition": {"test": "datum.value % 4 === 0", "value": 1}, "value": 0.6}},
    "axisY": {"labelPadding": 5.5, "titlePadding": 9, "labelOverlap": false, "labelExpr": "datum.value % 12 === 0 ? datum.label : ''", "tickOpacity": {"condition": {"test": "datum.value % 12 === 0", "value": 1}, "value": 0}, "gridWidth": {"condition": {"test": "datum.value % 12 === 0", "value": 1}, "value": 0.6}},
    "legend": {"orient": "none", "legendX": 412, "legendY": 1157, "direction": "horizontal", "titleOrient": "left", "titleFontSize": 15, "titleFontWeight": "normal", "titleColor": "#111111", "titlePadding": 8, "labelFontSize": 15, "labelColor": "#111111", "labelOffset": 11, "columnPadding": 6, "symbolType": "stroke", "symbolSize": 420, "symbolStrokeWidth": 4.5, "strokeColor": "#111111", "strokeWidth": 1.8, "padding": 12, "fillColor": "white"}
  }
}
